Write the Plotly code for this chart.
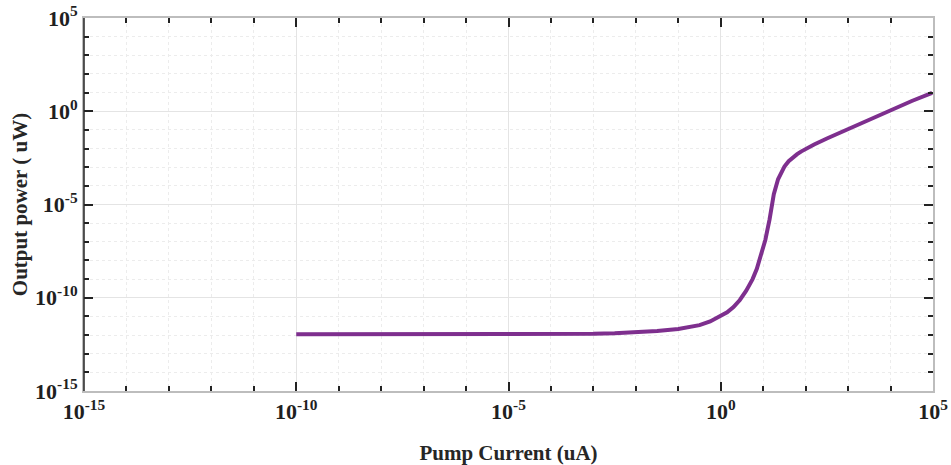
import plotly.graph_objects as go

# Pump current (uA) and output power (uW)
pump_current = [1e-10, 1e-7, 1e-5, 1e-4, 10**-3.5, 1e-3, 10**-2.5, 1e-2, 10**-1.5, 1e-1,
                10**-0.75, 10**-0.5, 10**-0.25, 1e0, 10**0.15, 10**0.3, 10**0.45, 10**0.6,
                10**0.75, 10**0.85, 10**0.95, 10**1.05, 10**1.15, 10**1.25, 10**1.35,
                10**1.45, 10**1.5, 10**1.6, 10**1.7, 10**1.8, 10**1.9, 10**2.0, 10**2.2,
                10**2.5, 10**3.0, 10**3.5, 10**4.0, 10**4.5, 10**4.98]
output_power = [10**-11.96, 10**-11.96, 10**-11.958, 10**-11.955, 10**-11.948, 10**-11.935,
                10**-11.905, 10**-11.855, 10**-11.78, 10**-11.68, 10**-11.59, 10**-11.47,
                10**-11.27, 10**-11.0, 10**-10.78, 10**-10.5, 10**-10.12, 10**-9.62,
                10**-9.0, 10**-8.45, 10**-7.7, 10**-6.9, 10**-5.8, 10**-4.45, 10**-3.65,
                10**-3.15, 10**-2.97, 10**-2.68, 10**-2.47, 10**-2.3, 10**-2.15, 10**-2.02,
                10**-1.78, 10**-1.46, 10**-0.95, 10**-0.44, 10**0.06, 10**0.55, 10**0.99]

major_vals = [1e-15, 1e-10, 1e-5, 1e0, 1e5]
major_text = ["10<sup>-15</sup>", "10<sup>-10</sup>", "10<sup>-5</sup>", "10<sup>0</sup>", "10<sup>5</sup>"]
minor_vals = [10.0**k for k in range(-15, 6)]

font_family = "Liberation Serif"

fig = go.Figure()
fig.add_trace(go.Scatter(
    x=pump_current, y=output_power, mode="lines",
    line=dict(color="#7E2F8E", width=4),
    showlegend=False,
))

axis_common = dict(
    type="log",
    range=[-15, 5],
    automargin=False,
    tickmode="array",
    tickvals=major_vals,
    ticktext=major_text,
    ticks="inside",
    ticklen=9,
    tickwidth=1.5,
    tickcolor="#222222",
    showline=True,
    linecolor="#bdbdbd",
    linewidth=2,
    mirror="ticks",
    showgrid=True,
    gridcolor="#e4e4e4",
    gridwidth=1,
    zeroline=False,
    tickfont=dict(family=font_family, size=22, color="#1f1f1f", weight="bold"),
    minor=dict(
        tickmode="array",
        tickvals=minor_vals,
        ticks="inside",
        ticklen=5,
        tickwidth=1.5,
        tickcolor="#222222",
        showgrid=True,
        gridcolor="#ececec",
        griddash="dot",
        gridwidth=1,
    ),
)

fig.update_xaxes(
    **axis_common,
    title=dict(text="Pump Current (uA)",
               font=dict(family=font_family, size=21, color="#262626", weight="bold"),
               standoff=22),
)
fig.update_yaxes(
    **axis_common,
    title=dict(text="Output power ( uW)",
               font=dict(family=font_family, size=21, color="#262626", weight="bold"),
               standoff=2),
)

# dark left axis line as in the reference
fig.add_shape(type="line", xref="paper", yref="paper", x0=0, x1=0, y0=0, y1=1,
              line=dict(color="#262626", width=1.5), layer="above")

fig.update_layout(
    width=951, height=465,
    margin=dict(l=84, r=18, t=18, b=74),
    paper_bgcolor="white",
    plot_bgcolor="white",
)

fig.write_html("out.html")
